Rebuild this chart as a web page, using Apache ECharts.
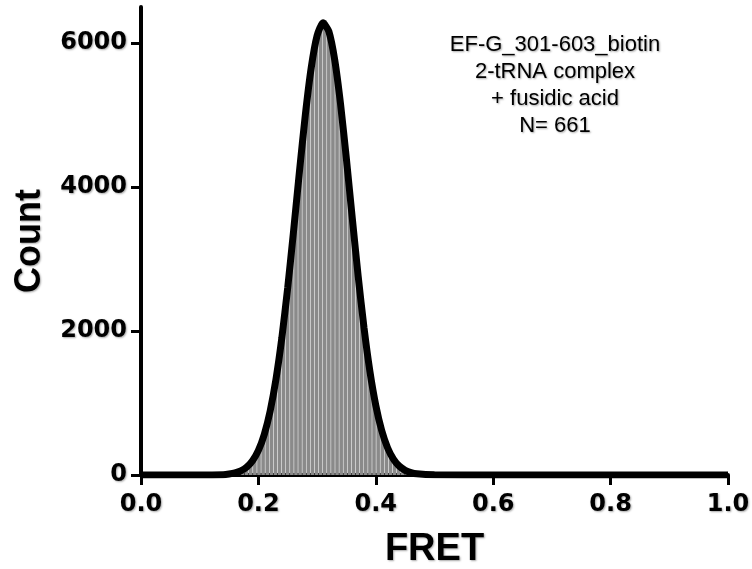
<!DOCTYPE html>
<html>
<head>
<meta charset="utf-8">
<script src="https://cdn.jsdelivr.net/npm/echarts@6/dist/echarts.min.js"></script>
<style>
  html, body { margin: 0; padding: 0; background: #fff; }
  #chart { width: 752px; height: 569px; }
</style>
</head>
<body>
<div id="chart"></div>
<script>
// histogram bins (FRET bin centre) and counts
var histX = [0.152, 0.159, 0.166, 0.173, 0.180, 0.187, 0.194, 0.201, 0.208, 0.215,
  0.222, 0.229, 0.236, 0.243, 0.250, 0.257, 0.264, 0.271, 0.278, 0.285,
  0.292, 0.299, 0.306, 0.313, 0.320, 0.327, 0.334, 0.341, 0.348, 0.355,
  0.362, 0.369, 0.376, 0.383, 0.390, 0.397, 0.404, 0.411, 0.418, 0.425,
  0.432, 0.439, 0.446, 0.453, 0.460, 0.467, 0.474, 0.481, 0.488, 0.495]
var histY = [25, 35, 55, 80, 120, 175, 250, 350, 480, 650,
  880, 1180, 1550, 2000, 2500, 3050, 3650, 4250, 4800, 5330,
  5760, 6080, 6280, 6320, 6180, 5900, 5520, 5050, 4500, 3900,
  3320, 2750, 2220, 1760, 1360, 1030, 770, 570, 420, 310,
  230, 170, 125, 90, 65, 48, 35, 25, 18, 12]

// gaussian fit curve
var fitX = [0.00, 0.10, 0.14, 0.15, 0.16, 0.17, 0.18, 0.19, 0.20, 0.21, 0.22, 0.23,
  0.24, 0.25, 0.26, 0.27, 0.28, 0.29, 0.30, 0.31, 0.32, 0.33, 0.34,
  0.35, 0.36, 0.37, 0.38, 0.39, 0.40, 0.41, 0.42, 0.43, 0.44, 0.45,
  0.46, 0.47, 0.50, 0.60, 1.00]
var fitY = [0, 0, 5, 14, 29, 57, 109, 198, 342, 564, 887, 1333,
  1909, 2607, 3396, 4222, 5005, 5658, 6103, 6280, 6161, 5766, 5148,
  4383, 3561, 2759, 2039, 1437, 966, 620, 379, 221, 123, 65,
  33, 16, 3, 0, 0]

var xTicks = [0, 0.2, 0.4, 0.6, 0.8, 1.0]
var yTicks = [0, 2000, 4000, 6000]
var noteLines = ['EF-G_301-603_biotin', '2-tRNA complex', '+ fusidic acid', 'N= 661']

var font = "'Liberation Sans', Arial, sans-serif"
var tickFont = "'DejaVu Sans', sans-serif"
var shadow = {
  textShadowColor: 'rgba(0,0,0,0.35)',
  textShadowBlur: 2,
  textShadowOffsetX: 1,
  textShadowOffsetY: 1
}

var chart = echarts.init(document.getElementById('chart'))

var histData = histX.map(function (x, i) { return [x, histY[i]] })
var fitData = fitX.map(function (x, i) { return [x, fitY[i]] })

var option = {
  backgroundColor: '#fff',
  animation: false,
  grid: { left: 141, right: 24, top: 7, bottom: 94, containLabel: false, outerBoundsMode: 'none' },
  xAxis: {
    type: 'value',
    min: 0,
    max: 1,
    interval: 0.2,
    name: 'FRET',
    nameLocation: 'middle',
    nameGap: 56,
    nameTextStyle: Object.assign({ fontFamily: font, fontWeight: 'bold', fontSize: 38, color: '#000' }, shadow),
    splitLine: { show: false },
    axisLine: { onZero: false, lineStyle: { color: '#000', width: 4 } },
    axisTick: { show: true, length: 10, lineStyle: { color: '#000', width: 3 }, customValues: xTicks },
    axisLabel: Object.assign({
      customValues: xTicks,
      margin: 18,
      fontFamily: tickFont, fontWeight: 'bold', fontSize: 24, color: '#000',
      formatter: function (v) { return v.toFixed(1) }
    }, shadow)
  },
  yAxis: {
    type: 'value',
    min: 0,
    max: 6500,
    name: 'Count',
    nameLocation: 'middle',
    nameGap: 93,
    nameRotate: 90,
    nameTextStyle: Object.assign({ fontFamily: font, fontWeight: 'bold', fontSize: 36, color: '#000' }, shadow),
    splitLine: { show: false },
    axisLine: { show: true, lineStyle: { color: '#000', width: 4 } },
    axisTick: { show: true, length: 10, lineStyle: { color: '#000', width: 3 }, customValues: yTicks },
    axisLabel: Object.assign({
      customValues: yTicks,
      margin: 14,
      fontFamily: tickFont, fontWeight: 'bold', fontSize: 24, color: '#000',
      formatter: function (v) { return String(v) }
    }, shadow)
  },
  graphic: [{
    type: 'text',
    x: 555,
    y: 31,
    style: Object.assign({
      text: noteLines.join('\n'),
      fontFamily: font,
      fontSize: 22,
      lineHeight: 27,
      align: 'center',
      textAlign: 'center',
      fill: '#000'
    }, shadow)
  }],
  series: [
    {
      name: 'histogram',
      type: 'bar',
      data: histData,
      barWidth: 3.6,
      itemStyle: { color: '#8a8a8a' },
      z: 1
    },
    {
      name: 'fit',
      type: 'line',
      data: fitData,
      showSymbol: false,
      smooth: 0.2,
      lineStyle: { color: '#000', width: 7 },
      z: 3
    }
  ]
}

chart.setOption(option)
</script>
</body>
</html>
